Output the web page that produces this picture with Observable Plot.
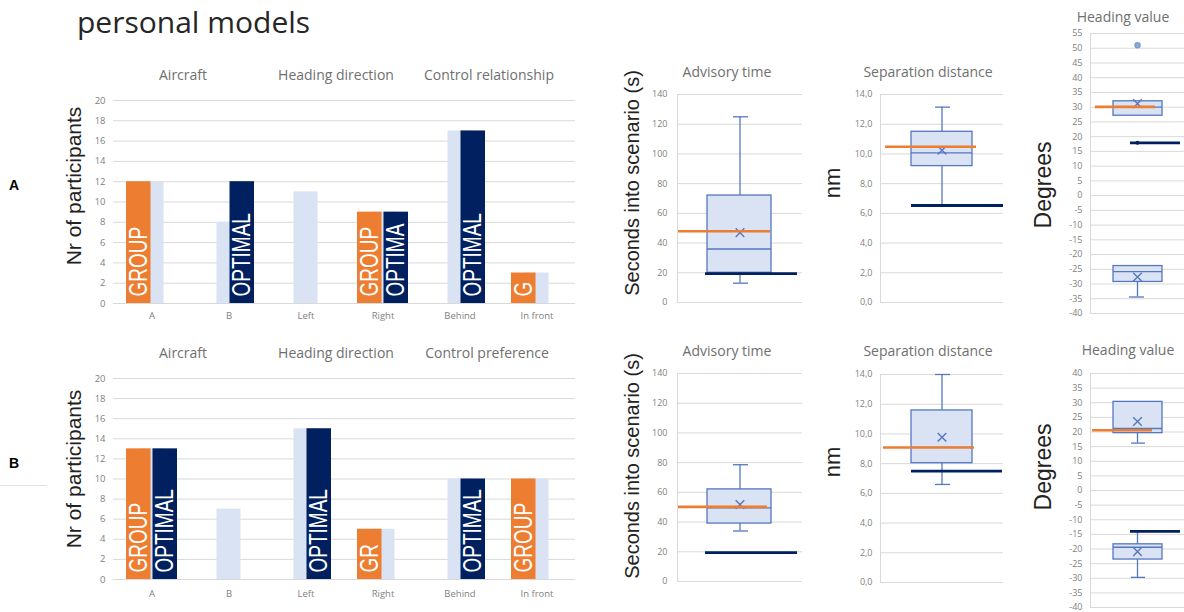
<!DOCTYPE html>
<html>
<head>
<meta charset="utf-8">
<script src="https://cdn.jsdelivr.net/npm/d3@7"></script>
<script src="https://cdn.jsdelivr.net/npm/@observablehq/plot@0.6"></script>
<style>
  html, body { margin: 0; padding: 0; background: #fff; }
  #root { position: relative; width: 1184px; height: 612px; overflow: hidden; background: #fff; font-family: "Open Sans", sans-serif; }
  .abs { position: absolute; }
  .hdr { position: absolute; font-size: 14px; line-height: 20px; color: #6f6f6f; white-space: nowrap; transform: translateX(-50%); }
  .ylab { position: absolute; font-family: "Liberation Sans", Arial, sans-serif; color: #222; white-space: nowrap; line-height: 1; transform: translate(-50%, -50%) rotate(-90deg); }
  #title { position: absolute; left: 77px; top: 1px; font-size: 30px; color: #262626; white-space: nowrap; }
  .rowlab { position: absolute; font-family: "Liberation Sans", Arial, sans-serif; font-weight: bold; font-size: 14px; color: #000; }
</style>
</head>
<body>
<div id="root">
  <div id="title">personal models</div>
  <div class="rowlab" style="left:9px;top:177px;">A</div>
  <div class="rowlab" style="left:9px;top:455px;">B</div>
  <div class="abs" style="left:0;top:485px;width:47px;height:1px;background:#e3e3e3;"></div>
</div>
<script>
// ---------- DATA ----------
const barCategories = ["A", "B", "Left", "Right", "Behind", "In front"];
const barYTicks = [0, 2, 4, 6, 8, 10, 12, 14, 16, 18, 20];
const headersA = ["Aircraft", "Heading direction", "Control relationship"];
const headersB = ["Aircraft", "Heading direction", "Control preference"];

// Row A (top)
const participantsA = [12, 8, 11, 9, 17, 3];
const groupA        = [12, null, null, 9, null, 3];
const optimalA      = [null, 12, null, 9, 17, null];
const groupLabelA   = ["GROUP", "", "", "GROUP", "", "G"];
const optimalLabelA = ["", "OPTIMAL", "", "OPTIMA", "OPTIMAL", ""];

// Row B (bottom)
const participantsB = [13, 7, 15, 5, 10, 10];
const groupB        = [13, null, null, 5, null, 10];
const optimalB      = [13, null, 15, null, 10, null];
const groupLabelB   = ["GROUP", "", "", "GR", "", "GROUP"];
const optimalLabelB = ["OPTIMAL", "", "OPTIMAL", "", "OPTIMAL", ""];

// Box plots: advisory time (s)
const advisoryTicks = [0, 20, 40, 60, 80, 100, 120, 140];
const advisoryBoxA = [{min: 13, q1: 20, median: 36, q3: 72, max: 125, mean: 47}];
const advisoryGroupA = 48, advisoryOptimalA = 19.5;
const advisoryBoxB = [{min: 34, q1: 39, median: 49.5, q3: 62, max: 78.6, mean: 51.8}];
const advisoryGroupB = 50.2, advisoryOptimalB = 19.4;

// Box plots: separation distance (nm)
const separationTicks = [0, 2, 4, 6, 8, 10, 12, 14];
const separationBoxA = [{min: 6.55, q1: 9.18, median: 10.07, q3: 11.49, max: 13.15, mean: 10.25}];
const separationGroupA = 10.48, separationOptimalA = 6.53;
const separationBoxB = [{min: 6.6, q1: 8.03, median: 9.09, q3: 11.58, max: 14.0, mean: 9.78}];
const separationGroupB = 9.09, separationOptimalB = 7.49;

// Box plots: heading value (degrees)
const headingTicksA = d3.range(-40, 56, 5);
const headingBoxA = [
  {min: 27.1, q1: 27.1, median: 30, q3: 32, max: 32, mean: 31.2},
  {min: -34.4, q1: -29.3, median: -25.8, q3: -23.9, max: -23.9, mean: -27.6}
];
const headingOutliersA = [51];
const headingGroupA = 30.1, headingOptimalA = 17.9;
const headingTicksB = d3.range(-40, 41, 5);
const headingBoxB = [
  {min: 16.2, q1: 19.6, median: 21.2, q3: 30.3, max: 30.3, mean: 23.6},
  {min: -29.7, q1: -23.6, median: -19.4, q3: -18.4, max: -14, mean: -20.9}
];
const headingOutliersB = [];
const headingGroupB = 20.6, headingOptimalB = -14;

// ---------- STYLE ----------
const ORANGE = "#ED7D31", NAVY = "#002060", LIGHT = "#DAE3F3";
const BOX = "#5577C0", BOXFILL = "#DAE3F3", GRID = "#d9d9d9", TICKC = "#7f7f7f";
const root = document.getElementById("root");

function place(el, left, top) {
  el.style.position = "absolute";
  el.style.left = left + "px";
  el.style.top = top + "px";
  root.appendChild(el);
  return el;
}
function addText(cls, txt, left, top, extra = {}) {
  const d = document.createElement("div");
  d.className = cls;
  d.textContent = txt;
  d.style.left = left + "px";
  d.style.top = top + "px";
  Object.assign(d.style, extra);
  root.appendChild(d);
}

// ---------- BAR CHARTS ----------
function barChart(part, grp, opt, gLab, oLab, m) {
  const rows = barCategories.map((c, i) => ({c, part: part[i], grp: grp[i], opt: opt[i], gLab: gLab[i], oLab: oLab[i]}));
  const labelFont = {rotate: -90, textAnchor: "start", dy: -7, fill: "white", fontSize: 25,
    fontFamily: "'Liberation Sans', Arial, sans-serif"};
  return Plot.plot({
    width: 530, height: 270,
    marginLeft: 53, marginRight: 15, marginTop: m.top, marginBottom: m.bottom,
    style: {background: "transparent", fontFamily: "'Open Sans', sans-serif", fontSize: "9.5px", color: TICKC},
    x: {domain: barCategories, padding: 0, tickSize: 0, tickPadding: m.xPad, label: null},
    y: {domain: [0, 20], ticks: barYTicks, tickSize: 0, tickPadding: 8, label: null},
    marks: [
      Plot.ruleY(barYTicks, {stroke: GRID}),
      Plot.barY(rows, {x: "c", y: "part", fill: LIGHT, insetLeft: 26.5, insetRight: 26.5}),
      Plot.barY(rows.filter(d => d.grp != null), {x: "c", y: "grp", fill: ORANGE, insetLeft: 13, insetRight: 39.5}),
      Plot.barY(rows.filter(d => d.opt != null), {x: "c", y: "opt", fill: NAVY, insetLeft: 39.5, insetRight: 13}),
      Plot.text(rows.filter(d => d.gLab), {x: "c", y: 0, text: "gLab", dx: -13, ...labelFont}),
      Plot.text(rows.filter(d => d.oLab), {x: "c", y: 0, text: "oLab", dx: 13, ...labelFont})
    ]
  });
}

place(barChart(participantsA, groupA, optimalA, groupLabelA, optimalLabelA, {top: 40, bottom: 27, xPad: 9}), 60, 60);
place(barChart(participantsB, groupB, optimalB, groupLabelB, optimalLabelB, {top: 38, bottom: 31, xPad: 11}), 60, 340);

// ---------- BOX PLOTS ----------
function boxPanel(o) {
  const B = o.boxes.map(b => ({...b, k: o.name}));
  const marks = [
    Plot.ruleY(o.ticks, {stroke: GRID}),
    Plot.frame({anchor: "left", stroke: GRID}),
    Plot.ruleX(B, {x: "k", y1: "q3", y2: "max", stroke: BOX, strokeWidth: 1.3}),
    Plot.ruleX(B, {x: "k", y1: "min", y2: "q1", stroke: BOX, strokeWidth: 1.3}),
    Plot.tickY(B.filter(d => d.max > d.q3), {x: "k", y: "max", stroke: BOX, strokeWidth: 1.3, ...o.cap}),
    Plot.tickY(B.filter(d => d.min < d.q1), {x: "k", y: "min", stroke: BOX, strokeWidth: 1.3, ...o.cap}),
    Plot.barY(B, {x: "k", y1: "q1", y2: "q3", fill: BOXFILL, stroke: BOX, strokeWidth: 1.3, ...o.box}),
    Plot.tickY(B, {x: "k", y: "median", stroke: BOX, strokeWidth: 1.3, ...o.box}),
    Plot.dot(B, {x: "k", y: "mean", symbol: "times", r: 4, stroke: BOX, strokeWidth: 1.4}),
    Plot.dot(o.outliers || [], {x: () => o.name, y: d => d, r: 2.5, fill: "#8EA9DB", stroke: "#7f9bd0"}),
    Plot.tickY([o.group], {x: () => o.name, y: d => d, stroke: ORANGE, strokeWidth: 2.6, ...o.gIn}),
    Plot.tickY([o.optimal], {x: () => o.name, y: d => d, stroke: NAVY, strokeWidth: 2.8, ...o.oIn})
  ];
  if (o.optDot) marks.push(Plot.dot([o.optimal], {x: () => o.name, y: d => d, r: 2, fill: NAVY}));
  return Plot.plot({
    width: o.width, height: o.height,
    marginLeft: o.ml, marginRight: o.mr, marginTop: o.mt, marginBottom: o.mb,
    style: {background: "transparent", fontFamily: "'Open Sans', sans-serif", fontSize: "9px", color: TICKC},
    x: {domain: [o.name], padding: 0, axis: null},
    y: {domain: o.domain, ticks: o.ticks, tickFormat: o.fmt, tickSize: 0, tickPadding: o.pad, label: null},
    marks
  });
}

const intFmt = d => String(d);
const commaFmt = d => d.toFixed(1).replace(".", ",");

// Advisory time
place(boxPanel({name: "adv", boxes: advisoryBoxA, group: advisoryGroupA, optimal: advisoryOptimalA,
  domain: [0, 140], ticks: advisoryTicks, fmt: intFmt, pad: 10,
  width: 170, height: 260, ml: 37, mr: 8, mt: 34, mb: 18,
  box: {insetLeft: 30, insetRight: 31}, cap: {insetLeft: 56, insetRight: 54},
  gIn: {insetLeft: 1, insetRight: 32}, oIn: {insetLeft: 28, insetRight: 5}}), 640, 60);
place(boxPanel({name: "adv", boxes: advisoryBoxB, group: advisoryGroupB, optimal: advisoryOptimalB,
  domain: [0, 140], ticks: advisoryTicks, fmt: intFmt, pad: 10,
  width: 170, height: 260, ml: 37, mr: 8, mt: 33, mb: 19,
  box: {insetLeft: 30, insetRight: 31}, cap: {insetLeft: 56, insetRight: 54},
  gIn: {insetLeft: 1, insetRight: 35}, oIn: {insetLeft: 28, insetRight: 5}}), 640, 340);

// Separation distance
place(boxPanel({name: "sep", boxes: separationBoxA, group: separationGroupA, optimal: separationOptimalA,
  domain: [0, 14], ticks: separationTicks, fmt: commaFmt, pad: 8,
  width: 175, height: 260, ml: 40, mr: 12, mt: 34, mb: 18,
  box: {insetLeft: 31, insetRight: 31}, cap: {insetLeft: 55, insetRight: 53},
  gIn: {insetLeft: 5, insetRight: 27}, oIn: {insetLeft: 31, insetRight: 0}}), 840, 60);
place(boxPanel({name: "sep", boxes: separationBoxB, group: separationGroupB, optimal: separationOptimalB,
  domain: [0, 14], ticks: separationTicks, fmt: commaFmt, pad: 8,
  width: 175, height: 260, ml: 40, mr: 12, mt: 34, mb: 18,
  box: {insetLeft: 31, insetRight: 31}, cap: {insetLeft: 55, insetRight: 53},
  gIn: {insetLeft: 3, insetRight: 29}, oIn: {insetLeft: 31, insetRight: 1}}), 840, 340);

// Heading value
place(boxPanel({name: "hdg", boxes: headingBoxA, group: headingGroupA, optimal: headingOptimalA, outliers: headingOutliersA,
  domain: [-40, 55], ticks: headingTicksA, fmt: intFmt, pad: 8, optDot: true,
  width: 134, height: 300, ml: 40, mr: 0, mt: 13, mb: 7,
  box: {insetLeft: 23, insetRight: 22}, cap: {insetLeft: 39, insetRight: 40},
  gIn: {insetLeft: 5, insetRight: 29}, oIn: {insetLeft: 40, insetRight: 4}}), 1050, 20);
place(boxPanel({name: "hdg", boxes: headingBoxB, group: headingGroupB, optimal: headingOptimalB, outliers: headingOutliersB,
  domain: [-40, 40], ticks: headingTicksB, fmt: intFmt, pad: 8,
  width: 134, height: 272, ml: 40, mr: 0, mt: 33, mb: 5,
  box: {insetLeft: 23, insetRight: 22}, cap: {insetLeft: 41, insetRight: 39},
  gIn: {insetLeft: 2, insetRight: 32}, oIn: {insetLeft: 40, insetRight: 4}}), 1050, 340);

// ---------- TEXT (headers, axis titles) ----------
const hdrX = [183, 336, 489];
headersA.forEach((h, i) => addText("hdr", h, hdrX[i], 65));
headersB.forEach((h, i) => addText("hdr", h, i === 2 ? 487 : hdrX[i], 343));
addText("hdr", "Advisory time", 727, 62);
addText("hdr", "Advisory time", 727, 341);
addText("hdr", "Separation distance", 928, 62);
addText("hdr", "Separation distance", 928, 341);
addText("hdr", "Heading value", 1123, 7);
addText("hdr", "Heading value", 1128, 340);

addText("ylab", "Nr of participants", 73, 186, {fontSize: "21px"});
addText("ylab", "Nr of participants", 73, 469, {fontSize: "21px"});
addText("ylab", "Seconds into scenario (s)", 632, 183, {fontSize: "20px"});
addText("ylab", "Seconds into scenario (s)", 632, 466, {fontSize: "20px"});
addText("ylab", "nm", 833, 183, {fontSize: "22px"});
addText("ylab", "nm", 833, 462, {fontSize: "22px"});
addText("ylab", "Degrees", 1043, 185, {fontSize: "23px"});
addText("ylab", "Degrees", 1043, 467, {fontSize: "23px"});

// condense the white in-bar labels (narrow lettering as in the original)
root.querySelectorAll('g[aria-label="text"][fill="white"] text').forEach(t => {
  const w = t.getComputedTextLength();
  t.setAttribute("textLength", (w * 0.76).toFixed(1));
  t.setAttribute("lengthAdjust", "spacingAndGlyphs");
});
</script>
</body>
</html>
